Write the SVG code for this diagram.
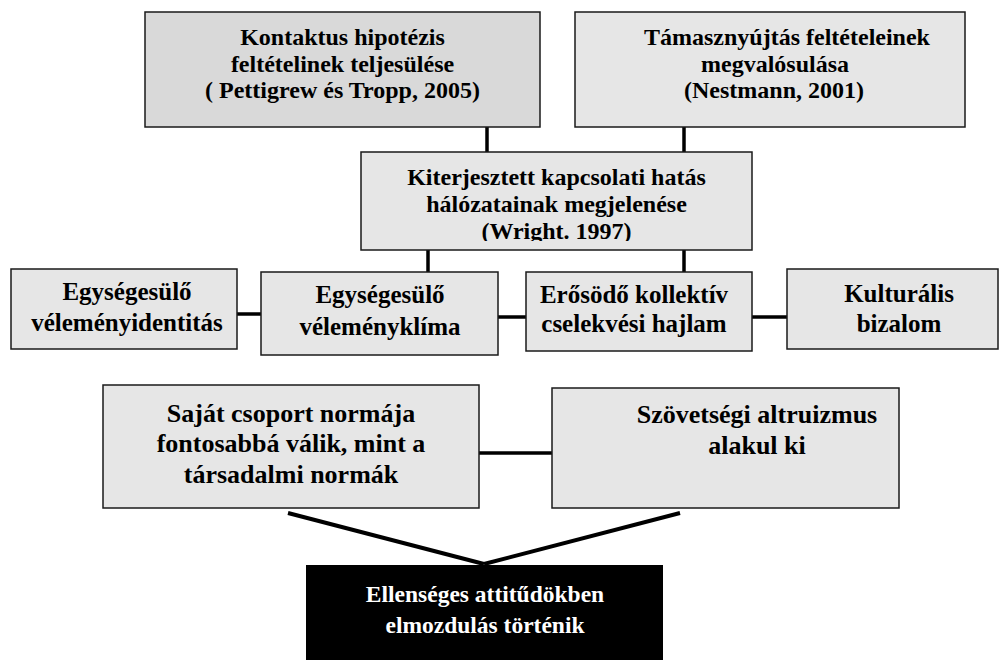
<svg xmlns="http://www.w3.org/2000/svg" width="1001" height="660" viewBox="0 0 1001 660">
<defs>
<style>
.box{fill:#e6e6e6;stroke:#1a1a1a;stroke-width:1.5}
.dark{fill:#d9d9d9}
.t{font-family:"Liberation Serif","Times New Roman",serif;font-weight:bold;fill:#000;text-anchor:middle}
.w{fill:#fff}
.c{stroke:#000;stroke-width:3.5;fill:none}
.d{stroke:#000;stroke-width:4;fill:none}
</style>
<clipPath id="clipK"><rect x="361" y="152" width="391" height="89"/></clipPath>
</defs>
<rect width="1001" height="660" fill="#fff"/>
<g id="connectors">
<line class="c" x1="487" y1="127" x2="487" y2="152"/>
<line class="c" x1="684" y1="127" x2="684" y2="152"/>
<line class="c" x1="428" y1="250" x2="428" y2="272"/>
<line class="c" x1="684" y1="250" x2="684" y2="274"/>
<line class="c" x1="237" y1="314" x2="261" y2="314"/>
<line class="c" x1="498" y1="317" x2="526" y2="317"/>
<line class="c" x1="752" y1="317" x2="787" y2="317"/>
<line class="c" x1="479" y1="453" x2="552" y2="453"/>
<line class="d" x1="288" y1="513" x2="484" y2="564"/>
<line class="d" x1="680" y1="513" x2="484" y2="564"/>
</g>
<g id="kontaktus">
<rect class="box dark" x="145" y="12" width="395" height="115"/>
<text class="t" font-size="24"><tspan x="342.5" y="45">Kontaktus hipotézis</tspan><tspan x="342.5" y="72">feltételinek teljesülése</tspan><tspan x="342.5" y="98">( Pettigrew és Tropp, 2005)</tspan></text>
</g>
<g id="tamasz">
<rect class="box" x="575" y="12" width="390" height="115"/>
<text class="t" font-size="24"><tspan x="787" y="45">Támasznyújtás feltételeinek</tspan><tspan x="775" y="72">megvalósulása</tspan><tspan x="774" y="98">(Nestmann, 2001)</tspan></text>
</g>
<g id="kiterjesztett">
<rect class="box" x="361" y="152" width="391" height="98"/>
<text class="t" font-size="24" clip-path="url(#clipK)"><tspan x="556.5" y="185">Kiterjesztett kapcsolati hatás</tspan><tspan x="556.5" y="212">hálózatainak megjelenése</tspan><tspan x="556.5" y="239">(Wright. 1997)</tspan></text>
</g>
<g id="identitas">
<rect class="box" x="11" y="269" width="226" height="80"/>
<text class="t" font-size="25"><tspan x="127" y="300">Egységesülő</tspan><tspan x="127" y="331">véleményidentitás</tspan></text>
</g>
<g id="klima">
<rect class="box" x="261" y="272" width="237" height="83"/>
<text class="t" font-size="25"><tspan x="380" y="303">Egységesülő</tspan><tspan x="380" y="335">véleményklíma</tspan></text>
</g>
<g id="kollektiv">
<rect class="box" x="526" y="272" width="226" height="79"/>
<text class="t" font-size="25"><tspan x="634" y="303">Erősödő kollektív</tspan><tspan x="634" y="332">cselekvési hajlam</tspan></text>
</g>
<g id="bizalom">
<rect class="box" x="787" y="269" width="211" height="80"/>
<text class="t" font-size="25"><tspan x="899" y="302">Kulturális</tspan><tspan x="899" y="332">bizalom</tspan></text>
</g>
<g id="norma">
<rect class="box" x="103" y="385" width="376" height="123"/>
<text class="t" font-size="26"><tspan x="291" y="422">Saját csoport normája</tspan><tspan x="291" y="452">fontosabbá válik, mint a</tspan><tspan x="291" y="483">társadalmi normák</tspan></text>
</g>
<g id="altruizmus">
<rect class="box" x="552" y="388" width="347" height="120"/>
<text class="t" font-size="26"><tspan x="757" y="423">Szövetségi altruizmus</tspan><tspan x="757" y="454">alakul ki</tspan></text>
</g>
<g id="ellenseges">
<rect x="306" y="565" width="357" height="95" fill="#000"/>
<text class="t w" font-size="23.5"><tspan x="485" y="602">Ellenséges attitűdökben</tspan><tspan x="485" y="633">elmozdulás történik</tspan></text>
</g>
</svg>
